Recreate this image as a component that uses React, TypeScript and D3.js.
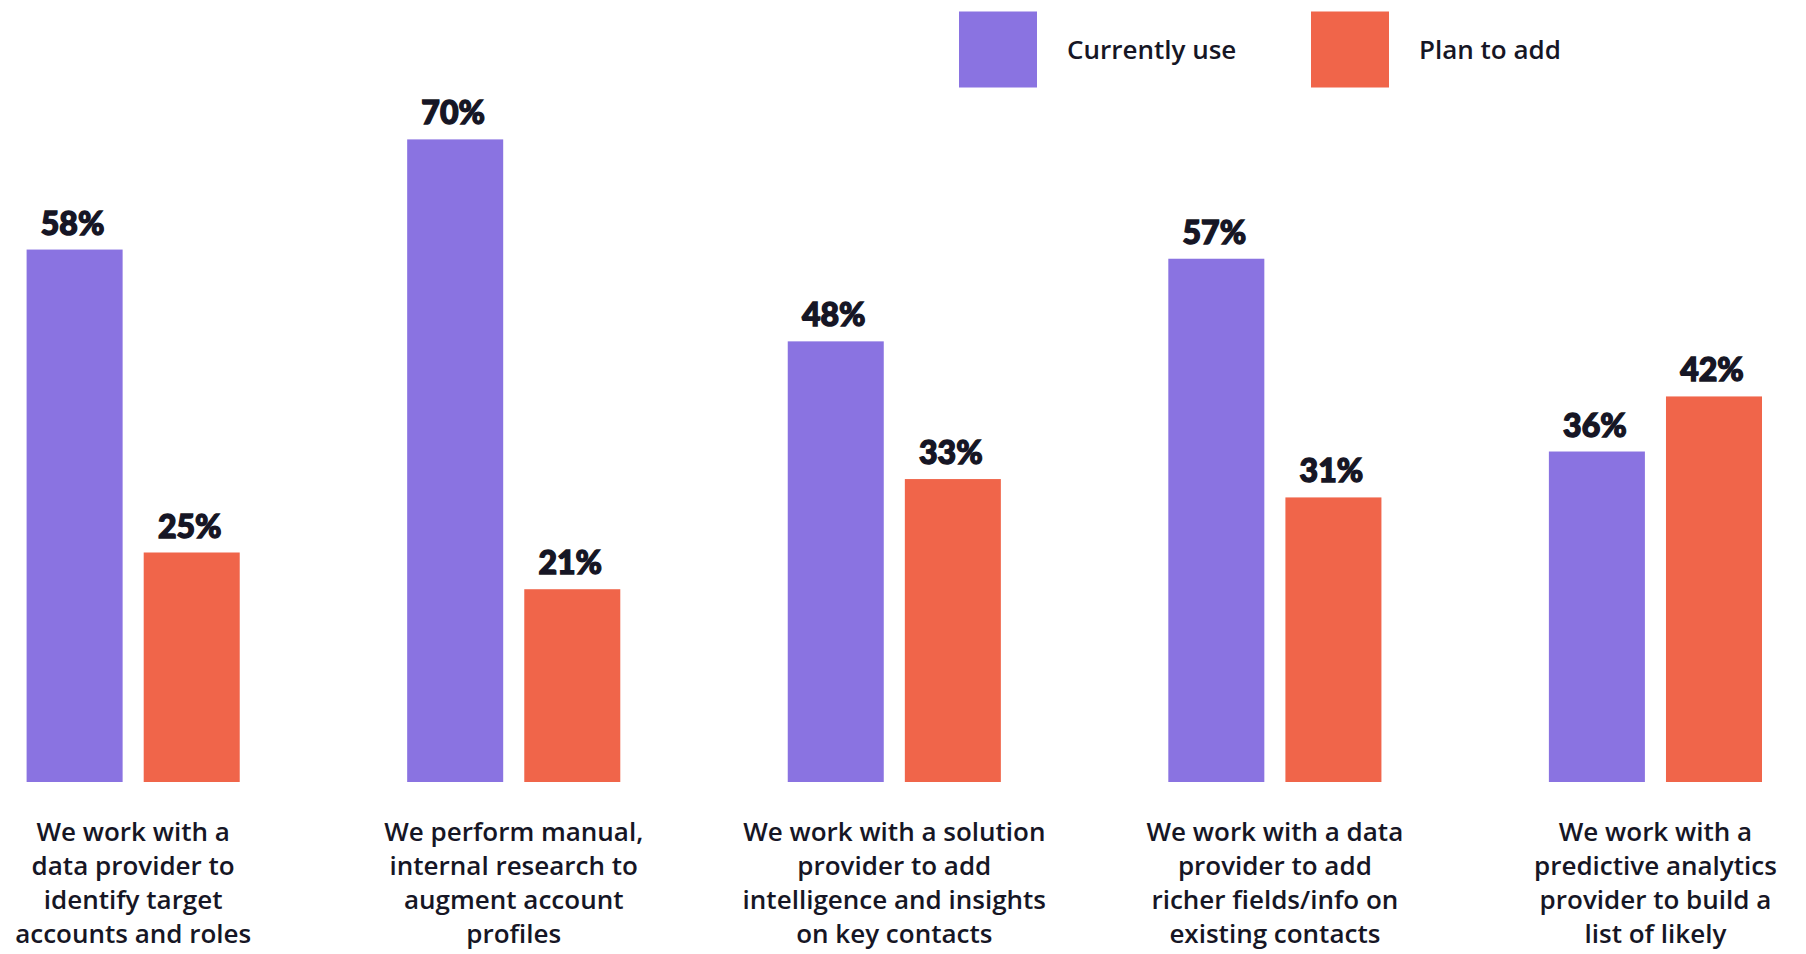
import * as d3 from 'd3';
import { useEffect, useRef } from 'react';

const WIDTH = 1806;
const HEIGHT = 954;

const CATEGORIES = ['provider-roles', 'manual-research', 'solution-insights', 'richer-fields', 'predictive'];
const CATEGORY_LINES = [
    ['We work with a', 'data provider to', 'identify target', 'accounts and roles'],
    ['We perform manual,', 'internal research to', 'augment account', 'profiles'],
    ['We work with a solution', 'provider to add', 'intelligence and insights', 'on key contacts'],
    ['We work with a data', 'provider to add', 'richer fields/info on', 'existing contacts'],
    ['We work with a', 'predictive analytics', 'provider to build a', 'list of likely'],
];
const SERIES = ['Currently use', 'Plan to add'];
const CURRENTLY_USE = [58, 70, 48, 57, 36];
const PLAN_TO_ADD = [25, 21, 33, 31, 42];

const COLORS = ['#8A73E1', '#F0654A'];
const TEXT = '#161625';
const FONT = '"Open Sans", Lato, sans-serif';
const VALUE_FONT = 'Lato, "Open Sans", sans-serif';

const BASELINE = 782;
const PX_PER_PCT = 9.18;

const App = () => {
    const svgRef = useRef<SVGSVGElement>(null);

    useEffect(() => {
        if (!svgRef.current) return;
        const svg = d3.select(svgRef.current);
        svg.selectAll('*').remove();

        const x0 = d3.scaleBand<string>().domain(CATEGORIES).range([26.6, 1762]).paddingInner(0.44).paddingOuter(0);
        const x1 = d3.scaleBand<string>().domain(SERIES).range([0, x0.bandwidth()]).paddingInner(0.18).paddingOuter(0);
        const y = d3.scaleLinear().domain([0, 100]).range([BASELINE, BASELINE - 100 * PX_PER_PCT]);
        const color = d3.scaleOrdinal<string, string>().domain(SERIES).range(COLORS);

        const rows = CATEGORIES.map((c, i) => ({
            key: c,
            lines: CATEGORY_LINES[i],
            values: [
                { series: SERIES[0], value: CURRENTLY_USE[i] },
                { series: SERIES[1], value: PLAN_TO_ADD[i] },
            ],
        }));

        const groups = svg
            .append('g')
            .selectAll('g')
            .data(rows)
            .enter()
            .append('g')
            .attr('transform', (d) => `translate(${x0(d.key)},0)`);

        groups
            .selectAll('rect')
            .data((d) => d.values)
            .enter()
            .append('rect')
            .attr('x', (d) => x1(d.series)!)
            .attr('y', (d) => y(d.value))
            .attr('width', x1.bandwidth())
            .attr('height', (d) => y(0) - y(d.value))
            .attr('fill', (d) => color(d.series));

        // value labels
        groups
            .selectAll('text.value')
            .data((d) => d.values)
            .enter()
            .append('text')
            .attr('class', 'value')
            .attr('x', (d) => x1(d.series)! + x1.bandwidth() / 2 - 2)
            .attr('y', (d) => y(d.value) - 15)
            .attr('text-anchor', 'middle')
            .style('font-family', VALUE_FONT)
            .style('font-weight', 900)
            .style('font-size', '32px')
            .style('fill', TEXT)
            .style('stroke', TEXT)
            .style('stroke-width', '1.4px')
            .text((d) => `${d.value}%`);

        // category labels
        const labels = groups
            .append('text')
            .attr('text-anchor', 'middle')
            .style('font-family', FONT)
            .style('font-weight', 600)
            .style('font-size', '26px')
            .style('fill', TEXT);
        labels
            .selectAll('tspan')
            .data((d) => d.lines)
            .enter()
            .append('tspan')
            .attr('x', x0.bandwidth() / 2)
            .attr('y', (_d, i) => 841 + i * 34)
            .text((d) => d);

        // legend
        const legend = svg
            .append('g')
            .selectAll('g')
            .data(SERIES)
            .enter()
            .append('g')
            .attr('transform', (_d, i) => `translate(${959 + i * 352},11.5)`);
        legend
            .append('rect')
            .attr('width', 78)
            .attr('height', 76)
            .attr('fill', (d) => color(d));
        legend
            .append('text')
            .attr('x', 108)
            .attr('y', 41)
            .attr('dominant-baseline', 'middle')
            .style('font-family', FONT)
            .style('font-weight', 600)
            .style('font-size', '26px')
            .style('fill', TEXT)
            .text((d) => d);
    }, []);

    return (
        <div>
            <style>{`body{margin:0;background:#fff}`}</style>
            <svg ref={svgRef} width={WIDTH} height={HEIGHT} style={{ display: 'block' }}></svg>
        </div>
    );
};

export default App;
